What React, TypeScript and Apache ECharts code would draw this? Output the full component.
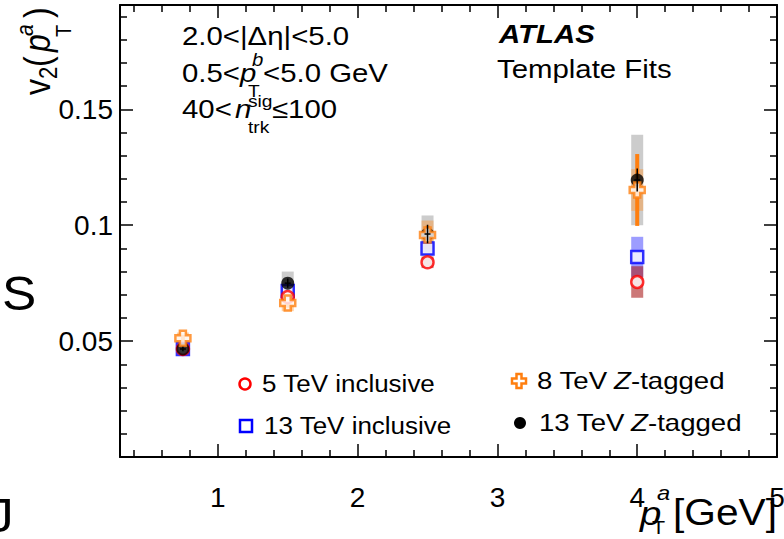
import React, { useEffect, useRef } from 'react';
import * as echarts from 'echarts';

// ---------- data ----------
const xValues = [0.75, 1.5, 2.5, 4.0];
const v2Incl5 = [0.0466, 0.069, 0.084, 0.0755];
const v2Incl5Sys = [0.0015, 0.002, 0.0025, 0.0068];
const v2Incl13 = [0.0466, 0.0716, 0.09, 0.0863];
const v2Incl13Sys = [0.0015, 0.0025, 0.003, 0.0087];
const v2Z8 = [0.0512, 0.0664, 0.0958, 0.1152];
const v2Z8Stat = [0.0015, 0.002, 0.004, 0.0155];
const v2Z8Sys = [0.0025, 0.0035, 0.0062, 0.009];
const v2Z13 = [0.0466, 0.075, 0.0962, 0.1195];
const v2Z13Stat = [0.001, 0.002, 0.004, 0.005];
const v2Z13Sys = [0.002, 0.005, 0.008, 0.0195];
const seriesNames = ['5 TeV inclusive', '13 TeV inclusive', '8 TeV Z-tagged', '13 TeV Z-tagged'];

const FONT = '"Liberation Sans", Arial, Helvetica, sans-serif';
const SX = 1.13;
const RED = '#ff0000';
const BLUE = '#0000ff';
const ORANGE = '#ff7f0f';

function txt(x: number, base: number, text: string, size: number, o: any = {}) {
  return {
    type: 'text',
    x,
    y: base - 0.3465 * size,
    scaleX: o.sx ?? SX,
    silent: true,
    z: 100,
    style: {
      text,
      fontSize: size,
      fontFamily: FONT,
      fontStyle: o.italic ? 'italic' : 'normal',
      fontWeight: o.bold ? 'bold' : 'normal',
      fill: '#000',
      align: o.align || 'left',
      textAlign: o.align || 'left',
      verticalAlign: 'middle',
      textVerticalAlign: 'middle',
    },
  };
}

function bandSeries(name: string, vals: number[], errs: number[], color: string, width: number, z: number) {
  return {
    type: 'custom',
    name,
    z,
    silent: true,
    data: xValues.map((x, i) => [x, vals[i] - errs[i], vals[i] + errs[i]]),
    encode: { x: 0, y: [1, 2] },
    renderItem: (_p: any, api: any) => {
      const lo = api.coord([api.value(0), api.value(1)]);
      const hi = api.coord([api.value(0), api.value(2)]);
      return {
        type: 'rect',
        shape: { x: lo[0] - width / 2, y: hi[1], width, height: lo[1] - hi[1] },
        style: { fill: color },
      };
    },
  };
}

function errSeries(name: string, vals: number[], errs: number[], color: string, lw: number, z: number, cap = 0) {
  return {
    type: 'custom',
    name,
    z,
    silent: true,
    data: xValues.map((x, i) => [x, vals[i] - errs[i], vals[i] + errs[i], vals[i]]),
    encode: { x: 0, y: [1, 2] },
    renderItem: (_p: any, api: any) => {
      const lo = api.coord([api.value(0), api.value(1)]);
      const hi = api.coord([api.value(0), api.value(2)]);
      const mid = api.coord([api.value(0), api.value(3)]);
      const children: any[] = [
        { type: 'line', shape: { x1: lo[0], y1: lo[1], x2: hi[0], y2: hi[1] }, style: { stroke: color, lineWidth: lw } },
      ];
      if (cap > 0) {
        children.push({ type: 'line', shape: { x1: mid[0] - cap, y1: mid[1], x2: mid[0] + cap, y2: mid[1] }, style: { stroke: color, lineWidth: lw } });
      }
      return { type: 'group', children };
    },
  };
}

const CROSS = 'path://M3,0H7V3H10V7H7V10H3V7H0V3H3Z';

function crossPoints(cx: number, cy: number, h: number, a: number) {
  return [
    [cx - a, cy - h], [cx + a, cy - h], [cx + a, cy - a], [cx + h, cy - a], [cx + h, cy + a], [cx + a, cy + a],
    [cx + a, cy + h], [cx - a, cy + h], [cx - a, cy + a], [cx - h, cy + a], [cx - h, cy - a], [cx - a, cy - a],
  ];
}

export default function App() {
  const ref = useRef<HTMLDivElement>(null);
  useEffect(() => {
    if (!ref.current) return;
    const chart = echarts.init(ref.current, null, { renderer: 'svg' });
    const tickStyle = { color: '#000', width: 1.5 };
    const axisLine = { show: true, onZero: false, lineStyle: { color: '#000', width: 2 } };
    const xBase: any = {
      type: 'value', min: 0.3, max: 5, splitNumber: 5,
      axisLine, axisTick: { show: true, inside: true, length: 13, lineStyle: tickStyle },
      minorTick: { show: true, splitNumber: 5, length: 7, lineStyle: tickStyle },
      splitLine: { show: false }, minorSplitLine: { show: false },
    };
    const yBase: any = {
      type: 'value', min: 0, max: 0.195, splitNumber: 4,
      axisLine, axisTick: { show: true, inside: true, length: 13, lineStyle: tickStyle },
      minorTick: { show: true, splitNumber: 5, length: 7, lineStyle: tickStyle },
      splitLine: { show: false }, minorSplitLine: { show: false },
    };
    const labelStyle = { color: '#000', fontSize: 28, fontFamily: FONT };

    const yTitle = {
      type: 'group', x: 50, y: 97, rotation: Math.PI / 2, scaleY: SX,
      children: [
        txt(2, 0, 'v', 32, { sx: 1 }),
        txt(18, 6, '2', 22, { sx: 1 }),
        txt(30, 0, '(', 32, { sx: 1 }),
        txt(45, 0, 'p', 32, { sx: 1, italic: true }),
        txt(61, -15, 'a', 21, { sx: 1, italic: true }),
        txt(60, 19, 'T', 20, { sx: 1 }),
        txt(79, 0, ')', 32, { sx: 1 }),
      ],
    };

    const RS = 1.2; // right legend column stretch
    const graphics: any[] = [
      // stray glyphs from neighbouring panel
      txt(2, 310, 'S', 48, { sx: 1.07 }),
      txt(-12, 532, 'J', 48, { sx: 1.07 }),
      // top-left annotations
      txt(182, 45, '2.0<|Δη|<5.0', 26),
      txt(182, 82, '0.5<', 26),
      txt(240, 82, 'p', 26, { italic: true }),
      txt(252, 66, 'b', 18, { italic: true }),
      txt(248, 97, 'T', 17),
      txt(263, 82, '<5.0 GeV', 26),
      txt(182, 118, '40<', 26),
      txt(235, 118, 'n', 26, { italic: true }),
      txt(248, 107, 'sig', 17),
      txt(248, 133, 'trk', 17),
      txt(272, 118, '≤100', 26),
      // top-right
      txt(499, 43, 'ATLAS', 26, { bold: true, italic: true }),
      txt(497, 78, 'Template Fits', 26),
      // y title
      yTitle,
      // x title
      txt(640, 525, 'p', 34, { italic: true }),
      txt(657, 500, 'a', 21, { italic: true }),
      txt(652, 534, 'T', 19),
      txt(777, 525, '[GeV]', 36, { align: 'right' }),
      // legend
      { type: 'circle', z: 100, silent: true, shape: { cx: 245, cy: 384, r: 5.5 }, style: { fill: '#fff', stroke: RED, lineWidth: 2.5 } },
      txt(262, 392, seriesNames[0], 23),
      { type: 'rect', z: 100, silent: true, shape: { x: 240, y: 420, width: 12, height: 12 }, style: { fill: '#fff', stroke: BLUE, lineWidth: 2.5 } },
      txt(264, 434, seriesNames[1], 23),
      { type: 'polygon', z: 100, silent: true, shape: { points: crossPoints(519, 381, 7, 2.5) }, style: { fill: '#fff', stroke: ORANGE, lineWidth: 2.5 } },
      txt(537, 389, '8 TeV', 23, { sx: RS }),
      txt(614, 389, 'Z', 23, { italic: true, sx: RS }),
      txt(631, 389, '-tagged', 23, { sx: RS }),
      { type: 'circle', z: 100, silent: true, shape: { cx: 520, cy: 423, r: 6 }, style: { fill: '#000' } },
      txt(539, 431, '13 TeV', 23, { sx: RS }),
      txt(631, 431, 'Z', 23, { italic: true, sx: RS }),
      txt(648, 431, '-tagged', 23, { sx: RS }),
    ];

    chart.setOption({
      animation: false,
      backgroundColor: '#fff',
      grid: { left: 120, right: 7, top: 5, bottom: 82, containLabel: false, outerBoundsMode: 'none' },
      xAxis: [
        { ...xBase, position: 'bottom', axisLabel: { ...labelStyle, margin: 26, showMinLabel: false } },
        { ...xBase, position: 'top', axisLabel: { show: false } },
      ],
      yAxis: [
        { ...yBase, position: 'left', axisLabel: { ...labelStyle, margin: 7, showMinLabel: false, showMaxLabel: false } },
        { ...yBase, position: 'right', axisLabel: { show: false } },
      ],
      series: [
        bandSeries('13 TeV Z-tagged sys', v2Z13, v2Z13Sys, 'rgba(0,0,0,0.2)', 12, 1),
        bandSeries('8 TeV Z-tagged sys', v2Z8, v2Z8Sys, 'rgba(255,150,50,0.45)', 12, 1),
        bandSeries('13 TeV inclusive sys', v2Incl13, v2Incl13Sys, 'rgba(60,60,255,0.5)', 12, 1),
        bandSeries('5 TeV inclusive sys', v2Incl5, v2Incl5Sys, 'rgba(170,30,30,0.6)', 12, 1),
        errSeries('8 TeV Z-tagged stat', v2Z8, v2Z8Stat, ORANGE, 4, 3),
        {
          type: 'scatter', name: seriesNames[1], z: 4, symbol: 'rect', symbolSize: 12,
          itemStyle: { color: '#fff', borderColor: BLUE, borderWidth: 2.5 },
          data: xValues.map((x, i) => [x, v2Incl13[i]]),
        },
        {
          type: 'scatter', name: seriesNames[0], z: 5, symbol: 'circle', symbolSize: 12,
          itemStyle: { color: '#fff', borderColor: RED, borderWidth: 2.5 },
          data: xValues.map((x, i) => [x, v2Incl5[i]]),
        },
        {
          type: 'scatter', name: seriesNames[3], z: 6, symbol: 'circle', symbolSize: 13,
          itemStyle: { color: '#000' },
          data: xValues.map((x, i) => [x, v2Z13[i]]),
        },
        {
          type: 'scatter', name: seriesNames[2], z: 7, symbol: CROSS, symbolSize: 15,
          itemStyle: { color: '#fff', borderColor: ORANGE, borderWidth: 2.5 },
          data: xValues.map((x, i) => [x, v2Z8[i]]),
        },
        errSeries('13 TeV Z-tagged stat', v2Z13, v2Z13Stat, '#000', 1.5, 8, 3),
      ],
      graphic: { elements: graphics },
    });
    return () => chart.dispose();
  }, []);
  return <div ref={ref} style={{ position: 'fixed', left: 0, top: 0, width: 784, height: 539 }} />;
}
